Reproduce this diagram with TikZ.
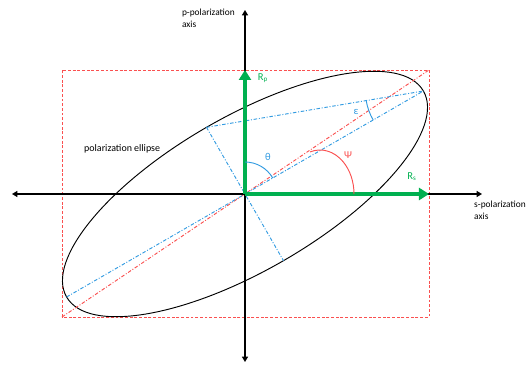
\documentclass[tikz,border=0pt]{standalone}
\usepackage{fontspec}
\setmainfont{Carlito}
\usepackage{tikz}
\usetikzlibrary{arrows.meta, calc}
\definecolor{pptgreen}{RGB}{0,176,80}
\definecolor{guideblue}{RGB}{50,155,225}
\definecolor{guidered}{RGB}{250,80,80}

\begin{document}
\begin{tikzpicture}[x=0.3mm, y=0.3mm,
    axis/.style={line width=1.5pt, {Triangle[length=1.6mm,width=1.8mm]}-{Triangle[length=1.6mm,width=1.8mm]}},
    vec/.style={line width=3.4pt, pptgreen, -{Triangle[length=3mm,width=3.6mm]}},
    guide/.style={guideblue, line width=0.8pt, dash pattern=on 3pt off 1.5pt on 0.8pt off 1.5pt},
    diag/.style={guidered, line width=0.8pt, dash pattern=on 3pt off 1.5pt on 0.8pt off 1.5pt},
    frame/.style={guidered, line width=0.8pt, dash pattern=on 2.5pt off 1.5pt},
    lbl/.style={font=\fontsize{8}{10}\selectfont, inner sep=0pt, align=left},
    sym/.style={font=\fontsize{9}{10}\selectfont, inner sep=0pt}
]
\useasboundingbox (-245,-173) rectangle (284,194);

\coordinate (O) at (0,0);
\coordinate (L) at (-233,0);
\coordinate (R) at (237,0);
\coordinate (T) at (0,184);
\coordinate (D) at (0,-168);
\coordinate (A) at (30:206);
\coordinate (A2) at (210:206);
\coordinate (B) at (120:77);
\coordinate (B2) at (300:77);
\coordinate (SW) at (-183,-123);
\coordinate (NE) at (184,124);
\coordinate (Rp) at (0,124);
\coordinate (Rs) at (184,0);

\draw[frame] (SW) rectangle (NE);
\draw[line width=0.8pt, rotate=30] (O) ellipse[x radius=206, y radius=77];
\draw[diag] (SW) -- (NE);
\draw[guide] (A2) -- (A);
\draw[guide] (B) -- (B2);
\draw[guide] (B) -- (A);

\draw[axis] (L) -- (R);
\draw[axis] (D) -- (T);
\draw[vec] (O) -- (Rp);
\draw[vec] (O) -- (Rs);

\draw[guideblue, line width=0.8pt] ($(O)+(90:32)$) arc[start angle=90, end angle=30, radius=32];
\draw[guidered, line width=0.8pt] (75,0) ++(107:34 and 44) arc[start angle=107, end angle=0, x radius=34, y radius=44];
\draw[guideblue, line width=0.8pt] ($(A)+(189:58)$) arc[start angle=189, end angle=210, radius=58];

\node[sym, guideblue] (theta) at (23,37) {θ};
\node[sym, guidered] (psi) at (103,39) {Ψ};
\node[sym, guideblue] (eps) at (111,82) {ε};
\node[sym, pptgreen] (Rplbl) at (18,116) {R\textsubscript{p}};
\node[sym, pptgreen] (Rslbl) at (167,17) {R\textsubscript{s}};

\node[lbl, anchor=east] (paxis) at (-10,176) {p-polarization\\axis};
\node[lbl, anchor=west] (saxis) at (229,-16) {s-polarization\\axis};
\node[lbl, anchor=west, font=\fontsize{8.5}{10}\selectfont] (ell) at (-161,45) {polarization ellipse};
\end{tikzpicture}
\end{document}
